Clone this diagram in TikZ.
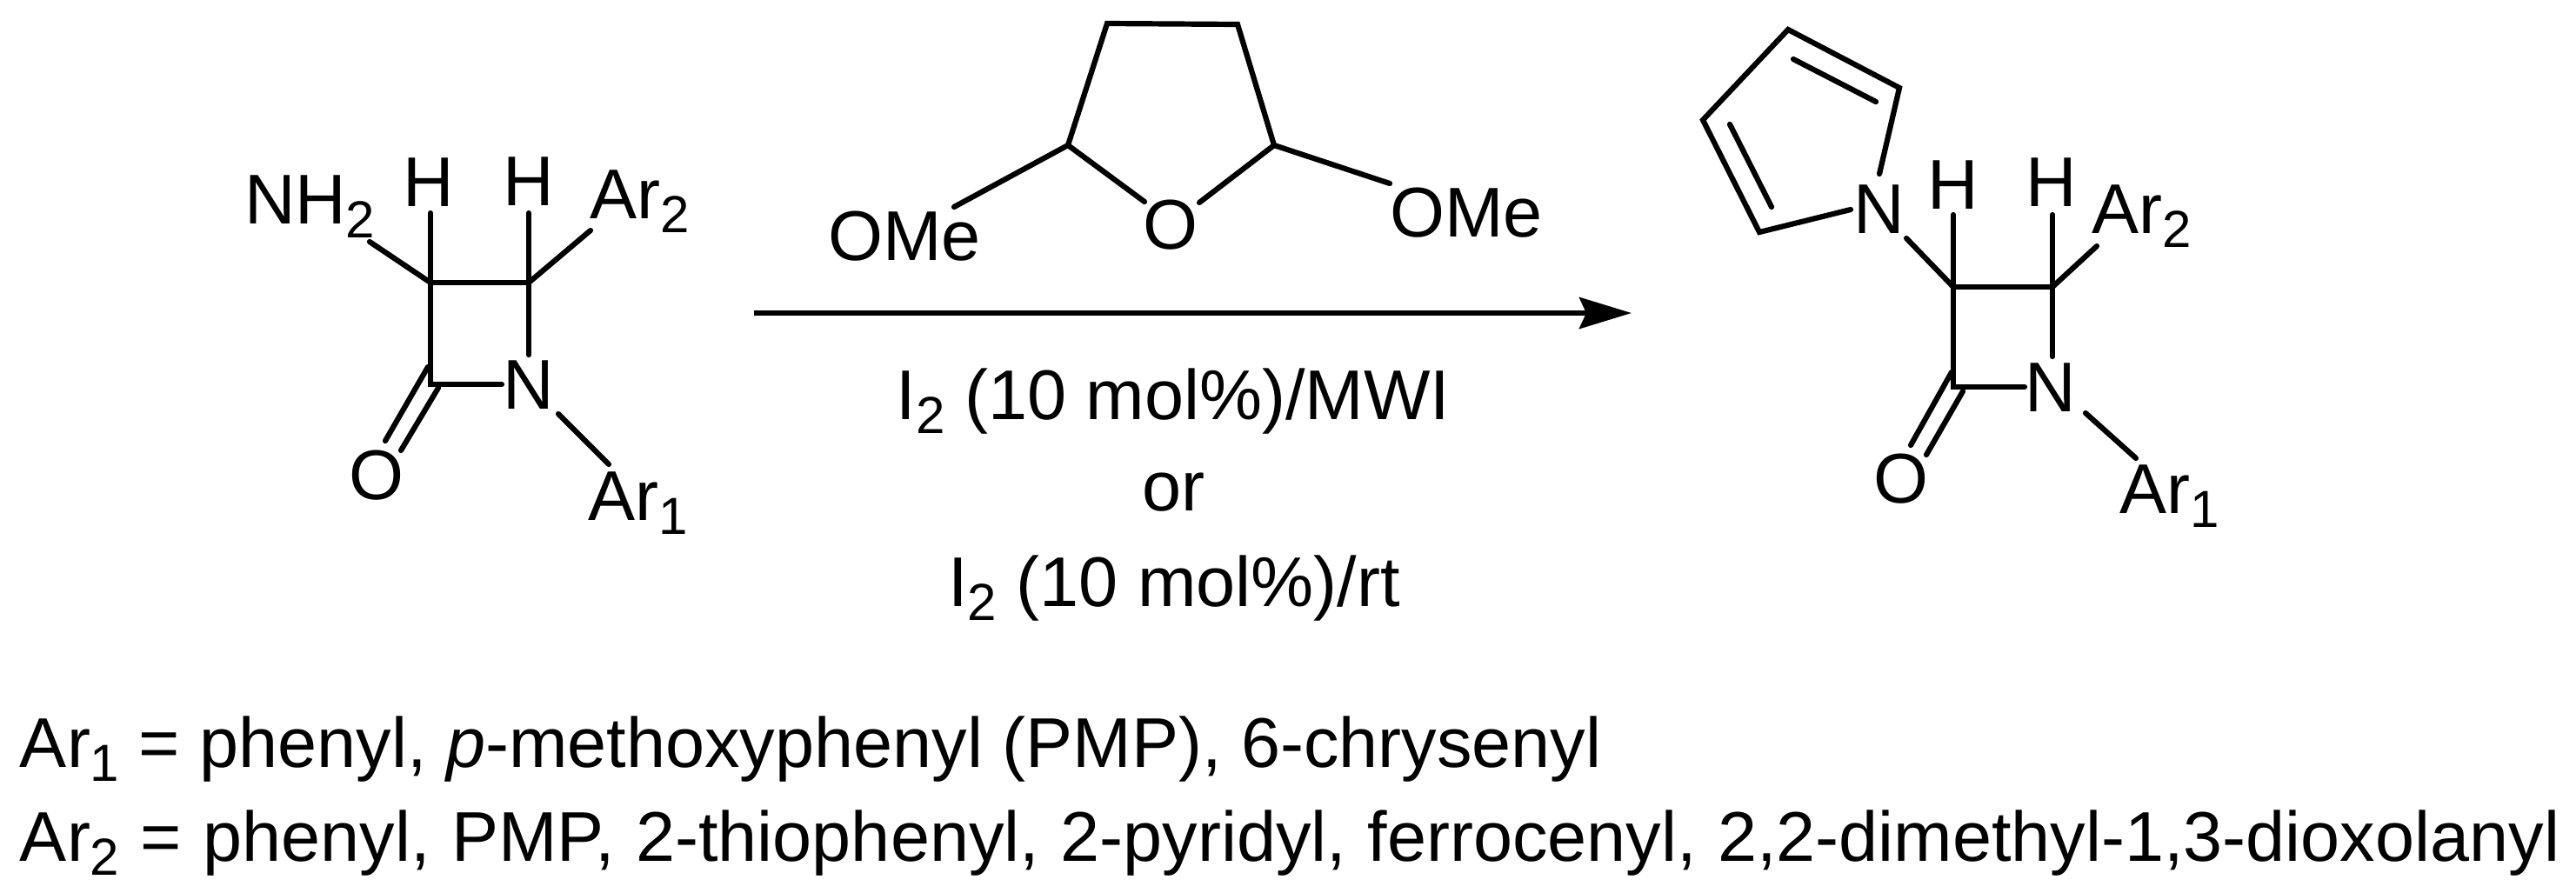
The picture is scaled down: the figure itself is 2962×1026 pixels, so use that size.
\documentclass[tikz,border=0pt]{standalone}
\usepackage{fontspec}
\setmainfont{Liberation Sans}
\usetikzlibrary{arrows.meta}
\newcommand{\chemsub}[1]{\raisebox{-0.2em}{\fontsize{60}{60}\selectfont #1}}
\tikzset{
  x=1pt,y=-1pt,
  bond/.style={line width=6.2pt,line cap=round,line join=miter},
  lab/.style={inner sep=0pt,outer sep=0pt,font=\fontsize{81}{90}\selectfont,text=black},
  baselab/.style={lab,anchor=base west},
  centlab/.style={lab,anchor=base},
  rxn/.style={line width=6pt,-{Stealth[length=60pt,width=36pt,inset=8pt]}}
}
\begin{document}
\begin{tikzpicture}
\useasboundingbox (0,0) rectangle (2962,1026);
\fill[white] (0,0) rectangle (2962,1026);
% --- left lactam
\node[centlab] (aH1) at (493,237) {H};
\node[centlab] (aH2) at (608,236) {H};
\node[baselab] (aNH) at (281,257) {NH\chemsub{2}};
\node[baselab] (aAr2) at (678,251) {Ar\chemsub{2}};
\node[centlab] (aN) at (608,470) {N};
\node[centlab] (aO) at (433,574) {O};
\node[baselab] (aAr1) at (676,598) {Ar\chemsub{1}};
\coordinate (a1) at (495,325);
\coordinate (a2) at (608,325);
\coordinate (a3) at (495,442);
\coordinate (a4) at (577,442);
\coordinate (a5) at (608,408);
\coordinate (aHs1) at (495,245);
\coordinate (aHs2) at (608,245);
\coordinate (aNHe) at (425,278);
\coordinate (aAre) at (679,265);
\coordinate (ad1) at (492,422);
\coordinate (ad2) at (443,507);
\coordinate (ad3) at (504,446);
\coordinate (ad4) at (461,518);
\coordinate (aN1) at (642,476);
\coordinate (aN2) at (700,534);
\draw[bond] (a5) -- (a2) -- (a1) -- (a3) -- (a4);
\draw[bond] (a1) -- (aHs1);
\draw[bond] (a2) -- (aHs2);
\draw[bond] (a1) -- (aNHe);
\draw[bond] (a2) -- (aAre);
\draw[bond] (ad1) -- (ad2);
\draw[bond] (ad3) -- (ad4);
\draw[bond] (aN1) -- (aN2);
% --- reagent
\node[centlab] (rO) at (1346,286) {O};
\node[baselab] (rOMe1) at (952,299) {OMe};
\node[baselab] (rOMe2) at (1598,272) {OMe};
\coordinate (r1) at (1273,27);
\coordinate (r2) at (1423,28);
\coordinate (r3) at (1465,167);
\coordinate (r4) at (1228,167);
\coordinate (r5) at (1316,232);
\coordinate (r6) at (1379,233);
\coordinate (r7) at (1097,238);
\coordinate (r8) at (1598,211);
\draw[bond] (r5) -- (r4) -- (r1) -- (r2) -- (r3) -- (r6);
\draw[bond] (r4) -- (r7);
\draw[bond] (r3) -- (r8);
% --- arrow
\coordinate (arL) at (867,360);
\coordinate (arR) at (1876,360);
\draw[rxn] (arL) -- (arR);
\node[centlab] (c1) at (1349,482) {I\chemsub{2} (10 mol\%)/MWI};
\node[centlab] (c2) at (1349,587) {or};
\node[centlab] (c3) at (1350,697) {I\chemsub{2} (10 mol\%)/rt};
% --- right lactam
\node[centlab] (bH1) at (2246,240) {H};
\node[centlab] (bH2) at (2359,237) {H};
\node[centlab] (bNp) at (2161,268) {N};
\node[baselab] (bAr2) at (2405,268) {Ar\chemsub{2}};
\node[centlab] (bN) at (2358,473) {N};
\node[centlab] (bO) at (2186,578) {O};
\node[baselab] (bAr1) at (2437,590) {Ar\chemsub{1}};
\coordinate (b1) at (2246,330);
\coordinate (b2) at (2360,330);
\coordinate (b3) at (2246,445);
\coordinate (b4) at (2328,445);
\coordinate (b5) at (2360,410);
\coordinate (bHs1) at (2246,247);
\coordinate (bHs2) at (2360,247);
\coordinate (bAre) at (2411,283);
\coordinate (bd1) at (2244,428);
\coordinate (bd2) at (2197,512);
\coordinate (bd3) at (2257,450);
\coordinate (bd4) at (2215,523);
\coordinate (bN1) at (2398,475);
\coordinate (bN2) at (2456,527);
\coordinate (bP) at (2192,274);
\coordinate (p1) at (2056,34);
\coordinate (p2) at (2184,101);
\coordinate (p3) at (1958,138);
\coordinate (p4) at (2023,267);
\coordinate (p5) at (2161,200);
\coordinate (p6) at (2128,241);
\coordinate (pi1) at (2062,68);
\coordinate (pi2) at (2157,117);
\coordinate (pi3) at (1989,143);
\coordinate (pi4) at (2037,238);
\draw[bond] (b5) -- (b2) -- (b1) -- (b3) -- (b4);
\draw[bond] (b1) -- (bHs1);
\draw[bond] (b2) -- (bHs2);
\draw[bond] (b1) -- (bP);
\draw[bond] (b2) -- (bAre);
\draw[bond] (bd1) -- (bd2);
\draw[bond] (bd3) -- (bd4);
\draw[bond] (bN1) -- (bN2);
\draw[bond] (p5) -- (p2) -- (p1) -- (p3) -- (p4) -- (p6);
\draw[bond] (pi1) -- (pi2);
\draw[bond] (pi3) -- (pi4);
% --- legend
\node[baselab] (l1) at (23,882) {Ar\chemsub{1} = phenyl, \textit{p}-methoxyphenyl (PMP), 6-chrysenyl};
\node[baselab] (l2) at (23,990) {\spaceskip=24.5pt Ar\chemsub{2} = phenyl, PMP, 2-thiophenyl, 2-pyridyl, ferrocenyl, 2,2-dimethyl-1,3-dioxolanyl};
\end{tikzpicture}
\end{document}
